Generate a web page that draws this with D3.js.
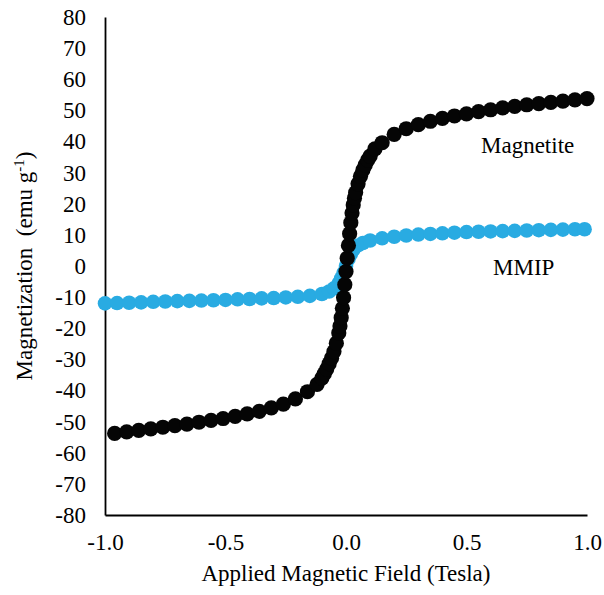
<!DOCTYPE html>
<html>
<head>
<meta charset="utf-8">
<script src="https://cdn.jsdelivr.net/npm/d3@7"></script>
<style>
  body { margin: 0; background: #fff; }
  svg text { font-family: "Times New Roman", "Liberation Serif", serif; fill: #000; }
</style>
</head>
<body>
<div id="chart"></div>
<script>
// Applied field (T) and magnetization (emu/g)
var fieldMagnetite = [-0.96, -0.91, -0.86, -0.81, -0.76, -0.71, -0.66, -0.61, -0.56, -0.51,
  -0.46, -0.41, -0.36, -0.31, -0.26, -0.21, -0.16, -0.12, -0.10, -0.09, -0.08, -0.07,
  -0.06, -0.05, -0.04, -0.03, -0.025, -0.02, -0.015, -0.01, -0.005, 0.0, 0.005, 0.01,
  0.015, 0.02, 0.025, 0.03, 0.035, 0.04, 0.05, 0.06, 0.07, 0.08, 0.09, 0.10, 0.12,
  0.15, 0.20, 0.25, 0.30, 0.35, 0.40, 0.45, 0.50, 0.55, 0.60, 0.65, 0.70, 0.75, 0.80,
  0.85, 0.90, 0.95, 1.00];
var magMagnetite = [-53.8, -53.3, -52.8, -52.3, -51.8, -51.3, -50.8, -50.2, -49.6, -49.0,
  -48.3, -47.5, -46.7, -45.6, -44.4, -42.7, -40.4, -38.0, -36.0, -34.6, -33.1, -31.4,
  -29.6, -27.5, -24.8, -21.5, -19.3, -16.6, -13.6, -10.2, -6.0, -1.8, 2.5, 6.6,
  10.4, 13.9, 17.0, 19.6, 21.8, 23.6, 26.4, 28.8, 30.8, 32.5, 34.0, 35.3, 37.6,
  39.6, 42.3, 44.1, 45.4, 46.5, 47.4, 48.2, 48.9, 49.6, 50.2, 50.8, 51.3, 51.8, 52.2,
  52.6, 53.0, 53.4, 53.8];

var fieldMMIP = [-1.00, -0.95, -0.90, -0.85, -0.80, -0.75, -0.70, -0.65, -0.60, -0.55,
  -0.50, -0.45, -0.40, -0.35, -0.30, -0.25, -0.20, -0.15, -0.10, -0.07, -0.05, -0.03,
  -0.02, -0.01, 0.0, 0.01, 0.02, 0.03, 0.05, 0.07, 0.10, 0.15, 0.20, 0.25, 0.30, 0.35,
  0.40, 0.45, 0.50, 0.55, 0.60, 0.65, 0.70, 0.75, 0.80, 0.85, 0.90, 0.95, 0.99];
var magMMIP = [-12.0, -11.9, -11.8, -11.7, -11.5, -11.4, -11.3, -11.2, -11.1, -11.0,
  -10.9, -10.7, -10.6, -10.4, -10.3, -10.1, -9.9, -9.6, -9.0, -8.2, -7.2, -5.5,
  -4.0, -2.2, 0.0, 2.2, 3.8, 5.2, 6.6, 7.4, 8.2, 8.9, 9.4, 9.8, 10.1, 10.3,
  10.5, 10.7, 10.9, 11.0, 11.1, 11.2, 11.3, 11.4, 11.5, 11.6, 11.7, 11.8, 11.8];

var xTicks = [-1.0, -0.5, 0.0, 0.5, 1.0];
var yTicks = [-80, -70, -60, -50, -40, -30, -20, -10, 0, 10, 20, 30, 40, 50, 60, 70, 80];

var fontSize = "23px";

var svg = d3.select("#chart").append("svg")
    .attr("width", 604)
    .attr("height", 595);

var x = d3.scaleLinear().domain([-1, 1]).range([105, 587]);
var y = d3.scaleLinear().domain([-80, 80]).range([515, 17]);

// axes, no tick marks (Excel style)
svg.append("g")
    .attr("transform", "translate(0,515)")
    .call(d3.axisBottom(x).tickValues(xTicks).tickSize(0).tickPadding(19)
        .tickFormat(function(d) { return d.toFixed(1); }));
svg.append("g")
    .attr("transform", "translate(105,0)")
    .call(d3.axisLeft(y).tickValues(yTicks).tickSize(0).tickPadding(19)
        .tickFormat(function(d) { return String(d); }));

svg.selectAll(".domain").attr("stroke", "#000").attr("stroke-width", 1.8);
svg.selectAll(".tick text")
    .style("font-family", '"Times New Roman", "Liberation Serif", serif')
    .style("font-size", fontSize)
    .attr("fill", "#000");

function drawSeries(xs, ys, colour, r) {
    var pts = xs.map(function(d, i) { return [d, ys[i]]; });
    svg.append("g").selectAll("circle")
        .data(pts)
        .enter().append("circle")
        .attr("cx", function(d) { return x(d[0]); })
        .attr("cy", function(d) { return y(d[1]); })
        .attr("r", r)
        .attr("fill", colour);
}

drawSeries(fieldMMIP, magMMIP, "#29abe2", 7.3);
drawSeries(fieldMagnetite, magMagnetite, "#050505", 7.6);

// series labels
svg.append("text")
    .attr("x", 481).attr("y", 153)
    .style("font-size", fontSize)
    .text("Magnetite");
svg.append("text")
    .attr("x", 493).attr("y", 275)
    .style("font-size", fontSize)
    .text("MMIP");

// axis titles
svg.append("text")
    .attr("x", 346).attr("y", 581)
    .attr("text-anchor", "middle")
    .style("font-size", fontSize)
    .text("Applied Magnetic Field (Tesla)");

var yTitle = svg.append("text")
    .attr("transform", "translate(32,266) rotate(-90)")
    .attr("text-anchor", "middle")
    .style("font-size", fontSize)
    .style("white-space", "pre");
yTitle.append("tspan").text("Magnetization  (emu g");
yTitle.append("tspan").attr("dy", -8).style("font-size", "15px").text("-1");
yTitle.append("tspan").attr("dy", 8).text(")");
</script>
</body>
</html>
